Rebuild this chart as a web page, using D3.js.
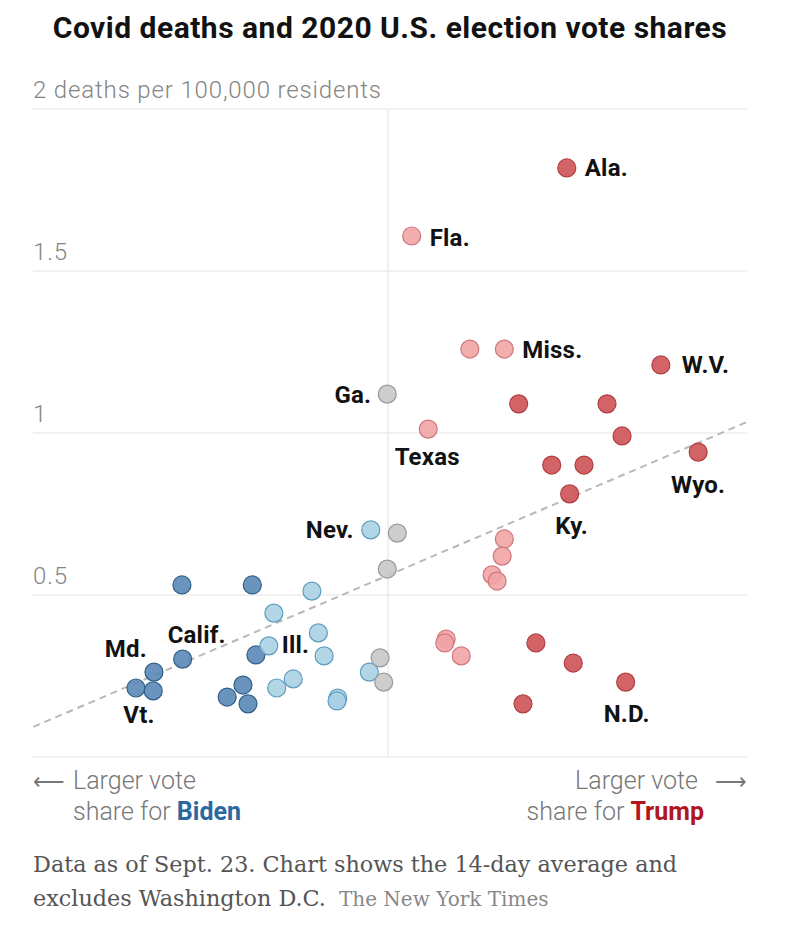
<!DOCTYPE html>
<html><head><meta charset="utf-8">
<script src="https://cdn.jsdelivr.net/npm/d3@7"></script>
<style>
html,body{margin:0;padding:0;background:#fff;}
svg{display:block;}
</style></head>
<body>
<svg id="chart" width="786" height="934"></svg>
<script>
// ---- DATA ----
// margin: Trump minus Biden vote share (pct points); deaths: 14-day avg deaths per 100,000
const strongBiden = [
  {m:-28.7,d:0.531,label:""},{m:-18.9,d:0.531,label:""},{m:-28.6,d:0.302,label:"Calif."},
  {m:-32.6,d:0.262,label:"Md."},{m:-35.1,d:0.213,label:"Vt."},{m:-32.7,d:0.204,label:""},
  {m:-18.4,d:0.315,label:""},{m:-22.4,d:0.185,label:""},{m:-20.2,d:0.222,label:""},
  {m:-19.5,d:0.164,label:""}
];
const leanBiden = [
  {m:-2.4,d:0.701,label:"Nev."},{m:-10.6,d:0.512,label:""},{m:-15.9,d:0.444,label:""},
  {m:-9.7,d:0.383,label:""},{m:-16.6,d:0.343,label:"Ill."},{m:-8.9,d:0.312,label:""},
  {m:-2.6,d:0.262,label:""},{m:-13.2,d:0.241,label:""},{m:-15.5,d:0.213,label:""},
  {m:-7.0,d:0.182,label:""},{m:-7.1,d:0.173,label:""}
];
const tossUp = [
  {m:-0.1,d:1.120,label:"Ga."},{m:1.3,d:0.691,label:""},{m:-0.1,d:0.580,label:""},
  {m:-1.1,d:0.306,label:""},{m:-0.6,d:0.231,label:""}
];
const leanTrump = [
  {m:3.3,d:1.608,label:"Fla."},{m:11.4,d:1.259,label:""},{m:16.2,d:1.259,label:"Miss."},
  {m:5.6,d:1.012,label:"Texas"},{m:16.2,d:0.673,label:""},{m:15.9,d:0.620,label:""},
  {m:14.5,d:0.562,label:""},{m:15.2,d:0.543,label:""},{m:8.1,d:0.364,label:""},
  {m:7.9,d:0.352,label:""},{m:10.2,d:0.312,label:""}
];
const strongTrump = [
  {m:24.9,d:1.818,label:"Ala."},{m:38.0,d:1.210,label:"W.V."},{m:18.2,d:1.090,label:""},
  {m:30.5,d:1.090,label:""},{m:32.6,d:0.991,label:""},{m:43.2,d:0.941,label:"Wyo."},
  {m:22.8,d:0.901,label:""},{m:27.3,d:0.901,label:""},{m:25.3,d:0.812,label:"Ky."},
  {m:20.6,d:0.352,label:""},{m:25.8,d:0.290,label:""},{m:33.1,d:0.231,label:"N.D."},
  {m:18.8,d:0.164,label:""}
];
const trendLine = [{m:-49.4,d:0.093},{m:50,d:1.034}];
const yTicks = [0.5, 1, 1.5, 2];
const yTickLabels = ["0.5", "1", "1.5", "2 deaths per 100,000 residents"];
const title = "Covid deaths and 2020 U.S. election vote shares";

// ---- STYLES ----
const groups = [
  {data:strongBiden, fill:"#5585b5", stroke:"#2f5f8a"},
  {data:leanBiden,   fill:"#a8d0e4", stroke:"#5e9cbf"},
  {data:tossUp,      fill:"#c6c6c6", stroke:"#999999"},
  {data:leanTrump,   fill:"#f0a2a4", stroke:"#d0767a"},
  {data:strongTrump, fill:"#cc4f52", stroke:"#b23d41"}
];
// label placement: dx, dy, anchor
const labelPos = {
  "Calif.":[14,-25,"middle"], "Md.":[-7,-24,"end"], "Vt.":[3,27,"middle"],
  "Nev.":[-17,0,"end"], "Ill.":[13,-1,"start"], "Ga.":[-16,0,"end"],
  "Fla.":[18,1,"start"], "Miss.":[18,0,"start"], "Texas":[-1,27,"middle"],
  "Ala.":[18,0,"start"], "W.V.":[21,0,"start"], "Wyo.":[0,32,"middle"],
  "Ky.":[2,32,"middle"], "N.D.":[1,31,"middle"]
};

const svg = d3.select("#chart");
const x = d3.scaleLinear().domain([-50, 50]).range([29, 747]);
const y = d3.scaleLinear().domain([0, 2]).range([757, 109]);
const gridX0 = 33, gridX1 = 747;

// title
svg.append("text").attr("x", 390).attr("y", 38).attr("text-anchor","middle")
  .attr("font-family","Roboto, 'Liberation Sans', sans-serif").attr("font-weight",700)
  .attr("font-size",30).attr("letter-spacing",0.5).attr("fill","#121212").text(title);

// gridlines
svg.append("g").selectAll("line").data([0].concat(yTicks)).join("line")
  .attr("x1", gridX0).attr("x2", gridX1)
  .attr("y1", d=>y(d)).attr("y2", d=>y(d))
  .attr("stroke","#e6e6e6").attr("stroke-width",1.2);
// vertical center line
svg.append("line").attr("x1", x(0)).attr("x2", x(0)).attr("y1", y(2)).attr("y2", y(0))
  .attr("stroke","#e6e6e6").attr("stroke-width",1.2);

// y tick labels
svg.append("g").selectAll("text").data(yTicks).join("text")
  .attr("x", gridX0).attr("y", d=>y(d)-11)
  .attr("font-family","Roboto, sans-serif").attr("font-weight",300)
  .attr("font-size",24).attr("letter-spacing",0.85).attr("fill","#858585")
  .text((d,i)=>yTickLabels[i]);

// trend line
svg.append("line")
  .attr("x1", x(trendLine[0].m)).attr("y1", y(trendLine[0].d))
  .attr("x2", x(trendLine[1].m)).attr("y2", y(trendLine[1].d))
  .attr("stroke","#b8b8b8").attr("stroke-width",2).attr("stroke-dasharray","7,5");

// dots
groups.forEach(g=>{
  svg.append("g").selectAll("circle").data(g.data).join("circle")
    .attr("cx", d=>x(d.m)).attr("cy", d=>y(d.d)).attr("r", 9)
    .attr("fill", g.fill).attr("fill-opacity",0.88)
    .attr("stroke", g.stroke).attr("stroke-width",1.2);
});

// labels
const allPts = groups.flatMap(g=>g.data).filter(d=>d.label);
svg.append("g").selectAll("text").data(allPts).join("text")
  .attr("x", d=>x(d.m)+labelPos[d.label][0])
  .attr("y", d=>y(d.d)+labelPos[d.label][1]+8.5)
  .attr("text-anchor", d=>labelPos[d.label][2])
  .attr("font-family","Roboto, 'Liberation Sans', sans-serif").attr("font-weight",700)
  .attr("font-size",24).attr("letter-spacing",0.2).attr("fill","#121212")
  .text(d=>d.label);

// bottom axis annotations
const ann = svg.append("g").attr("font-family","Roboto, sans-serif").attr("font-weight",300)
  .attr("font-size",25).attr("fill","#777");
ann.append("text").attr("x", gridX0).attr("y", 789).attr("font-size",22).text("⟵");
ann.append("text").attr("x", 73).attr("y", 789).text("Larger vote");
const lb = ann.append("text").attr("x", 73).attr("y", 820);
lb.append("tspan").text("share for ");
lb.append("tspan").attr("font-weight",700).attr("fill","#2a69a0").text("Biden");
ann.append("text").attr("x", 698).attr("y", 789).attr("text-anchor","end").text("Larger vote");
ann.append("text").attr("x", gridX1).attr("y", 789).attr("text-anchor","end").attr("font-size",22).text("⟶");
const rb = ann.append("text").attr("x", 704).attr("y", 820).attr("text-anchor","end");
rb.append("tspan").text("share for ");
rb.append("tspan").attr("font-weight",700).attr("fill","#b3151f").text("Trump");

// note
const note = svg.append("g").attr("font-family","'DejaVu Serif', 'Liberation Serif', serif").attr("fill","#555");
note.append("text").attr("x", 33).attr("y", 872).attr("font-size",22.3)
  .text("Data as of Sept. 23. Chart shows the 14-day average and");
const n2 = note.append("text").attr("x", 33).attr("y", 906).attr("font-size",22.3);
n2.append("tspan").text("excludes Washington D.C.");
n2.append("tspan").attr("font-size",20).attr("fill","#888").attr("dx",13).text("The New York Times");
</script>
</body></html>
